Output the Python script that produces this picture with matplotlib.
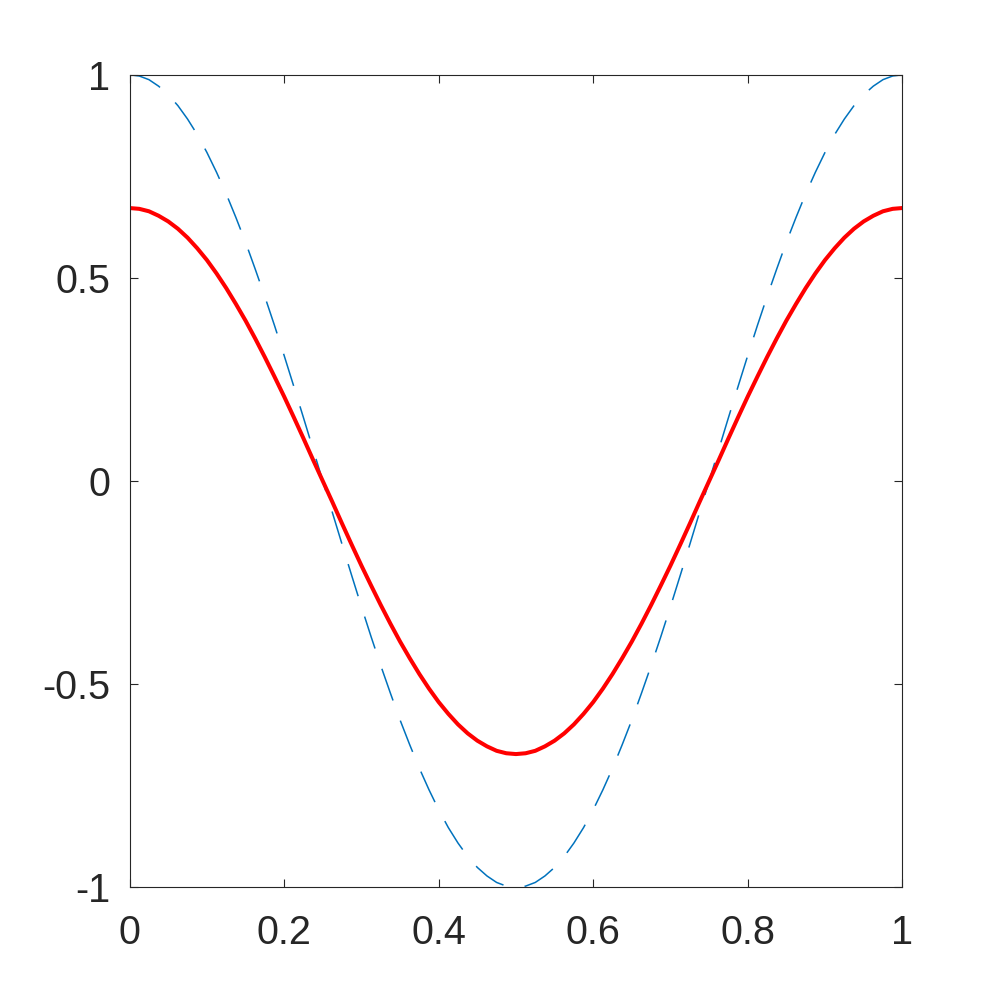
import numpy as np
import matplotlib.pyplot as plt

plt.rcParams['font.family'] = ['Liberation Sans', 'DejaVu Sans']

# sample positions along x (step 0.0125)
x = [0.0000, 0.0125, 0.0250, 0.0375, 0.0500, 0.0625, 0.0750, 0.0875, 0.1000, 0.1125,
     0.1250, 0.1375, 0.1500, 0.1625, 0.1750, 0.1875, 0.2000, 0.2125, 0.2250, 0.2375,
     0.2500, 0.2625, 0.2750, 0.2875, 0.3000, 0.3125, 0.3250, 0.3375, 0.3500, 0.3625,
     0.3750, 0.3875, 0.4000, 0.4125, 0.4250, 0.4375, 0.4500, 0.4625, 0.4750, 0.4875,
     0.5000, 0.5125, 0.5250, 0.5375, 0.5500, 0.5625, 0.5750, 0.5875, 0.6000, 0.6125,
     0.6250, 0.6375, 0.6500, 0.6625, 0.6750, 0.6875, 0.7000, 0.7125, 0.7250, 0.7375,
     0.7500, 0.7625, 0.7750, 0.7875, 0.8000, 0.8125, 0.8250, 0.8375, 0.8500, 0.8625,
     0.8750, 0.8875, 0.9000, 0.9125, 0.9250, 0.9375, 0.9500, 0.9625, 0.9750, 0.9875,
     1.0000]

# dashed reference curve
dashed = [1.000, 0.997, 0.988, 0.972, 0.951, 0.924, 0.891, 0.853, 0.809, 0.760,
          0.707, 0.649, 0.588, 0.522, 0.454, 0.383, 0.309, 0.233, 0.156, 0.078,
          0.000, -0.078, -0.156, -0.233, -0.309, -0.383, -0.454, -0.522, -0.588, -0.649,
          -0.707, -0.760, -0.809, -0.853, -0.891, -0.924, -0.951, -0.972, -0.988, -0.997,
          -1.000, -0.997, -0.988, -0.972, -0.951, -0.924, -0.891, -0.853, -0.809, -0.760,
          -0.707, -0.649, -0.588, -0.522, -0.454, -0.383, -0.309, -0.233, -0.156, -0.078,
          0.000, 0.078, 0.156, 0.233, 0.309, 0.383, 0.454, 0.522, 0.588, 0.649,
          0.707, 0.760, 0.809, 0.853, 0.891, 0.924, 0.951, 0.972, 0.988, 0.997,
          1.000]

# solid curves (blue lies under the red one)
solid = [0.672, 0.670, 0.664, 0.653, 0.639, 0.621, 0.599, 0.573, 0.544, 0.511,
         0.475, 0.436, 0.395, 0.351, 0.305, 0.257, 0.208, 0.157, 0.105, 0.052,
         0.000, -0.052, -0.105, -0.157, -0.208, -0.257, -0.305, -0.351, -0.395, -0.436,
         -0.475, -0.511, -0.544, -0.573, -0.599, -0.621, -0.639, -0.653, -0.664, -0.670,
         -0.672, -0.670, -0.664, -0.653, -0.639, -0.621, -0.599, -0.573, -0.544, -0.511,
         -0.475, -0.436, -0.395, -0.351, -0.305, -0.257, -0.208, -0.157, -0.105, -0.052,
         0.000, 0.052, 0.105, 0.157, 0.208, 0.257, 0.305, 0.351, 0.395, 0.436,
         0.475, 0.511, 0.544, 0.573, 0.599, 0.621, 0.639, 0.653, 0.664, 0.670,
         0.672]

xticks = [0, 0.2, 0.4, 0.6, 0.8, 1]
xticklabels = ['0', '0.2', '0.4', '0.6', '0.8', '1']
yticks = [-1, -0.5, 0, 0.5, 1]
yticklabels = ['-1', '-0.5', '0', '0.5', '1']

fig = plt.figure(figsize=(9.97, 9.97), dpi=100)
ax = fig.add_axes([0.13, 0.11, 0.775, 0.815])

ax.plot(x, dashed, color='#0072BD', lw=1.1, dashes=(22, 14))
ax.plot(x, solid, color='blue', lw=0.8)
ax.plot(x, solid, color='red', lw=2.9, solid_joinstyle='round')

ax.set_xlim(0, 1)
ax.set_ylim(-1, 1)
ax.set_xticks(xticks)
ax.set_xticklabels(xticklabels)
ax.set_yticks(yticks)
ax.set_yticklabels(yticklabels)

for s in ax.spines.values():
    s.set_color('#262626')
    s.set_linewidth(0.8)
ax.tick_params(direction='in', length=6, width=0.8, color='#262626',
               labelcolor='#262626', labelsize=28.5, top=True, right=True)
ax.tick_params(axis='x', pad=19)
ax.tick_params(axis='y', pad=14)

fig.savefig('out.png', dpi=100)
